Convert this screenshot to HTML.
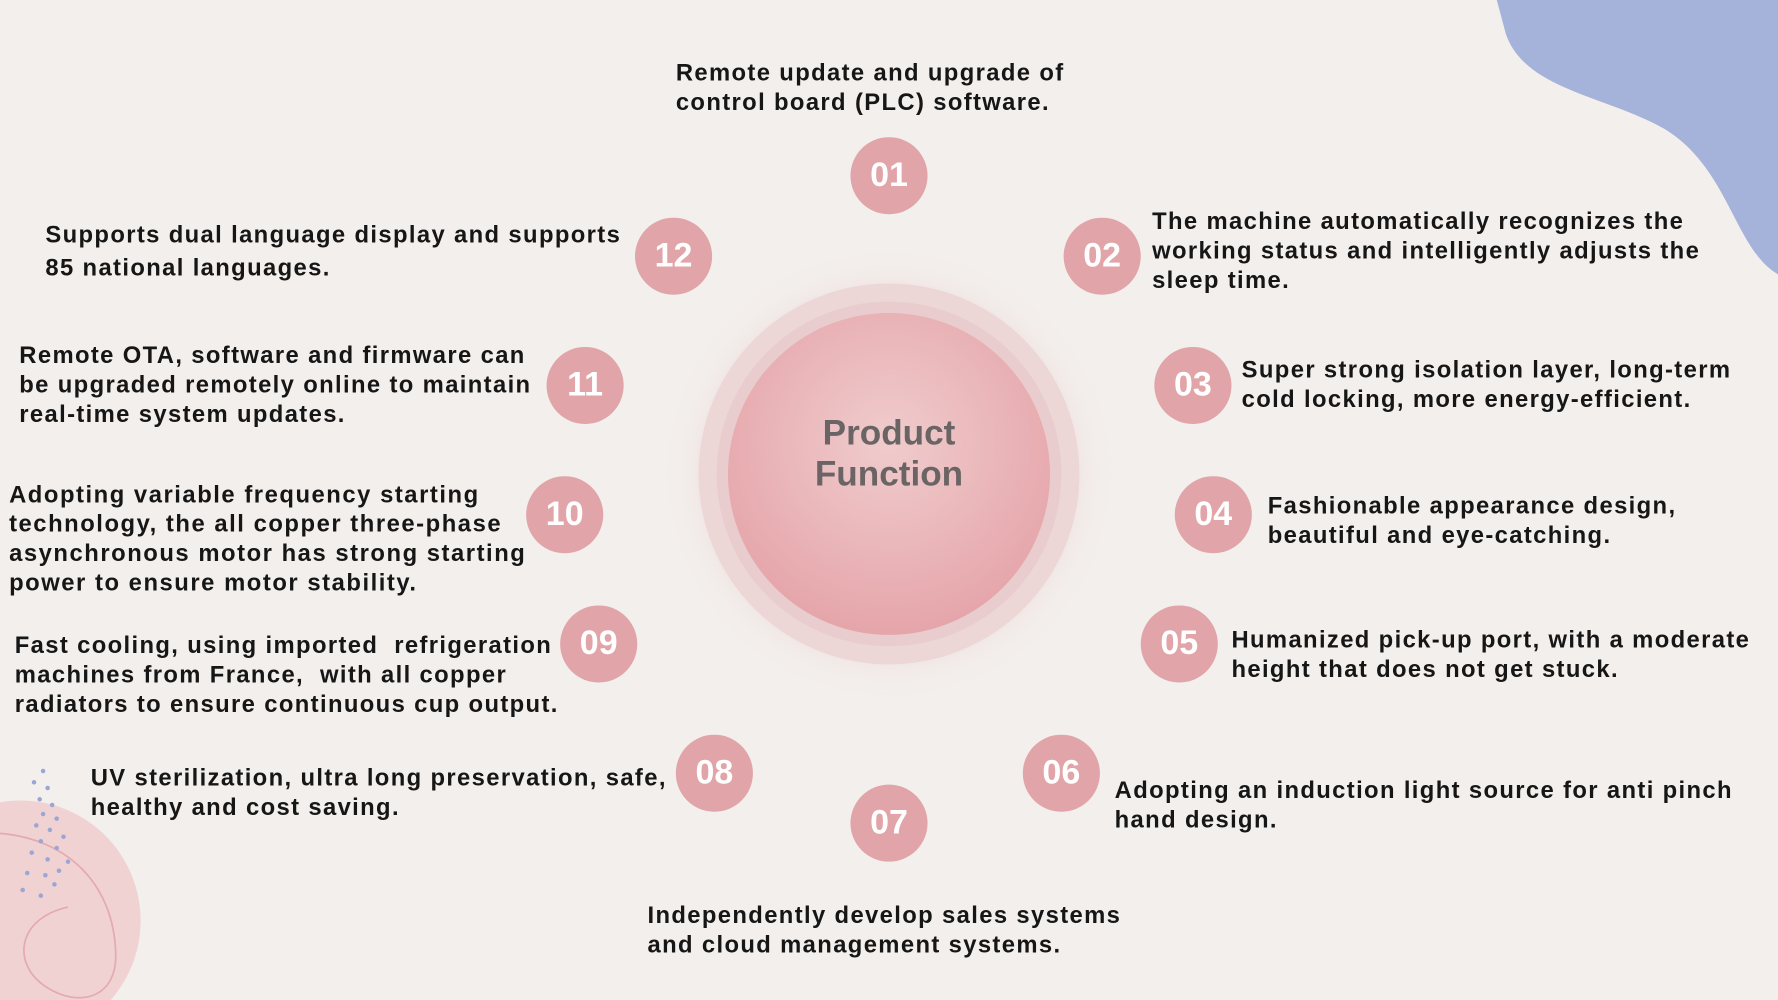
<!DOCTYPE html>
<html><head><meta charset="utf-8"><style>
html,body{margin:0;padding:0;width:1778px;height:1000px;overflow:hidden;background:#f3efec}
#s{position:absolute;left:0;top:0;width:1568px;height:882px;transform:scale(1.13393,1.13379);transform-origin:0 0;font-family:"Liberation Sans",sans-serif;}
.n{position:absolute;width:68px;height:68px;margin:-34px 0 0 -34px;border-radius:50%;background:#e1a4a8;color:#fff;font-weight:bold;font-size:30px;line-height:68px;text-align:center}
.t{position:absolute;font-weight:bold;font-size:21px;line-height:26px;color:#161616;white-space:nowrap;letter-spacing:1.2px}
</style></head><body><div id="s">
<svg width="1568" height="882" style="position:absolute;left:0;top:0">
<defs><radialGradient id="g" cx="50%" cy="40%" r="60%"><stop offset="0" stop-color="#f0cccd"/><stop offset="1" stop-color="#e5a5aa"/></radialGradient>
<radialGradient id="h"><stop offset="0.7" stop-color="#ead0d0"/><stop offset="1" stop-color="#f3efec" stop-opacity="0"/></radialGradient></defs>
<path d="M1320 0 L1568 0 L1568 242 C1530 220 1525 150 1470 115 C1420 85 1345 80 1328 30 Z" fill="#a5b2d9"/>
<circle cx="18" cy="812" r="106" fill="#f0d2d2"/>
<path d="M0 735 C60 740 100 780 102 840 C104 880 70 890 40 870 C10 850 15 810 60 800" fill="none" stroke="#e3aab0" stroke-width="1.5"/>
<g fill="#9aa6d4">
<circle cx="38" cy="680" r="2"/><circle cx="30" cy="690" r="2"/><circle cx="42" cy="695" r="2"/><circle cx="35" cy="705" r="2"/><circle cx="46" cy="710" r="2"/><circle cx="38" cy="718" r="2"/><circle cx="50" cy="722" r="2"/><circle cx="32" cy="728" r="2"/><circle cx="44" cy="732" r="2"/><circle cx="56" cy="738" r="2"/><circle cx="36" cy="742" r="2"/><circle cx="50" cy="748" r="2"/><circle cx="28" cy="752" r="2"/><circle cx="42" cy="758" r="2"/><circle cx="60" cy="760" r="2"/><circle cx="24" cy="770" r="2"/><circle cx="40" cy="772" r="2"/><circle cx="52" cy="768" r="2"/><circle cx="20" cy="785" r="2"/><circle cx="36" cy="790" r="2"/><circle cx="48" cy="780" r="2"/></g>
<circle cx="784" cy="418" r="196" fill="url(#h)"/>
<circle cx="784" cy="418" r="168" fill="#ecd6d6"/>
<circle cx="784" cy="418" r="152" fill="#e9cdce"/>
<circle cx="784" cy="418" r="142" fill="url(#g)"/>
<text x="784" y="392" text-anchor="middle" font-family="Liberation Sans" font-weight="bold" font-size="31" fill="#6a6464">Product</text>
<text x="784" y="428" text-anchor="middle" font-family="Liberation Sans" font-weight="bold" font-size="31" fill="#6a6464">Function</text>
</svg>
<div class="n" style="left:784px;top:155px">01</div>
<div class="n" style="left:972px;top:226px">02</div>
<div class="n" style="left:1052px;top:340px">03</div>
<div class="n" style="left:1070px;top:454px">04</div>
<div class="n" style="left:1040px;top:568px">05</div>
<div class="n" style="left:936px;top:682px">06</div>
<div class="n" style="left:784px;top:726px">07</div>
<div class="n" style="left:630px;top:682px">08</div>
<div class="n" style="left:528px;top:568px">09</div>
<div class="n" style="left:498px;top:454px">10</div>
<div class="n" style="left:516px;top:340px">11</div>
<div class="n" style="left:594px;top:226px">12</div>
<div class="t" style="left:596px;top:52px">Remote update and upgrade of<br>control board (PLC) software.</div>
<div class="t" style="left:1016px;top:183px">The machine automatically recognizes the<br>working status and intelligently adjusts the<br>sleep time.</div>
<div class="t" style="left:1095px;top:314px">Super strong isolation layer, long-term<br>cold locking, more energy-efficient.</div>
<div class="t" style="left:1118px;top:434px">Fashionable appearance design,<br>beautiful and eye-catching.</div>
<div class="t" style="left:1086px;top:552px">Humanized pick-up port, with a moderate<br>height that does not get stuck.</div>
<div class="t" style="left:983px;top:685px">Adopting an induction light source for anti pinch<br>hand design.</div>
<div class="t" style="left:571px;top:795px">Independently develop sales systems<br>and cloud management systems.</div>
<div class="t" style="left:80px;top:674px">UV sterilization, ultra long preservation, safe,<br>healthy and cost saving.</div>
<div class="t" style="left:13px;top:557px">Fast cooling, using imported&nbsp; refrigeration<br>machines from France,&nbsp; with all copper<br>radiators to ensure continuous cup output.</div>
<div class="t" style="left:8px;top:424px;letter-spacing:1.35px">Adopting variable frequency starting<br>technology, the all copper three-phase<br>asynchronous motor has strong starting<br>power to ensure motor stability.</div>
<div class="t" style="left:17px;top:301px">Remote OTA, software and firmware can<br>be upgraded remotely online to maintain<br>real-time system updates.</div>
<div class="t" style="left:40px;top:193px;line-height:29px">Supports dual language display and supports<br>85 national languages.</div>
</div></body></html>
